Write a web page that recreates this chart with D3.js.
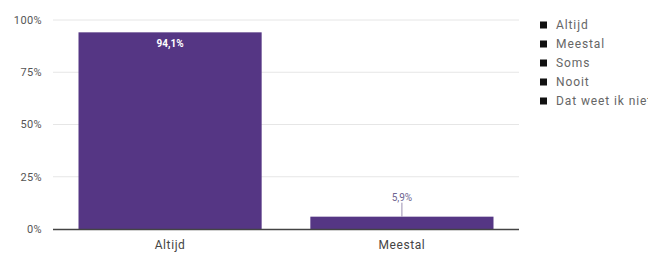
<!DOCTYPE html>
<html>
<head>
<meta charset="utf-8">
<script src="https://d3js.org/d3.v7.min.js"></script>
<style>
  body { margin: 0; background: #fff; }
  text { font-family: Roboto, "Noto Sans", sans-serif; }
</style>
</head>
<body>
<div id="chart"></div>
<script>
// data
var categories = ["Altijd", "Meestal"];
var values = [94.1, 5.9];
var valueLabels = ["94,1%", "5,9%"];
var legendItems = ["Altijd", "Meestal", "Soms", "Nooit", "Dat weet ik niet"];
var yTicks = [0, 25, 50, 75, 100];

var W = 648, H = 256;
var svg = d3.select("#chart").append("svg")
    .attr("width", W)
    .attr("height", H);

var x = d3.scaleBand()
    .domain(categories)
    .range([53, 519])
    .paddingInner(0.21)
    .paddingOuter(0.11);

var y = d3.scaleLinear()
    .domain([0, 100])
    .range([229, 20]);

// gridlines
svg.append("g")
    .selectAll("line")
    .data(yTicks.filter(function(d) { return d > 0; }))
    .enter().append("line")
        .attr("x1", 53)
        .attr("x2", 519)
        .attr("y1", function(d) { return y(d); })
        .attr("y2", function(d) { return y(d); })
        .attr("stroke", "#e6e6e6")
        .attr("stroke-width", 1);

// y tick labels
svg.append("g")
    .selectAll("text")
    .data(yTicks)
    .enter().append("text")
        .attr("x", 42)
        .attr("y", function(d) { return y(d); })
        .attr("dy", "0.35em")
        .attr("text-anchor", "end")
        .attr("font-size", 11)
        .attr("letter-spacing", 0.4)
        .attr("fill", "#555")
        .text(function(d) { return d + "%"; });

// bars
svg.append("g")
    .selectAll("rect")
    .data(values)
    .enter().append("rect")
        .attr("x", function(d, i) { return x(categories[i]); })
        .attr("y", function(d) { return y(d); })
        .attr("width", x.bandwidth())
        .attr("height", function(d) { return y(0) - y(d); })
        .attr("fill", "#553684");

// baseline
svg.append("line")
    .attr("x1", 53)
    .attr("x2", 519)
    .attr("y1", y(0) + 0.5)
    .attr("y2", y(0) + 0.5)
    .attr("stroke", "#444")
    .attr("stroke-width", 1.5);

// x labels
svg.append("g")
    .selectAll("text")
    .data(categories)
    .enter().append("text")
        .attr("x", function(d) { return x(d) + x.bandwidth() / 2; })
        .attr("y", 245)
        .attr("dy", "0.35em")
        .attr("text-anchor", "middle")
        .attr("font-size", 12)
        .attr("letter-spacing", 0.6)
        .attr("fill", "#444")
        .text(function(d) { return d; });

// value labels: inside for tall bars, outside with leader line for small
values.forEach(function(v, i) {
    var cx = x(categories[i]) + x.bandwidth() / 2;
    if (v > 20) {
        svg.append("text")
            .attr("x", cx)
            .attr("y", y(v) + 11)
            .attr("dy", "0.35em")
            .attr("text-anchor", "middle")
            .attr("font-size", 10)
            .attr("font-weight", "bold")
            .attr("fill", "#fff")
            .text(valueLabels[i]);
    } else {
        svg.append("line")
            .attr("x1", cx)
            .attr("x2", cx)
            .attr("y1", y(v) - 14)
            .attr("y2", y(v))
            .attr("stroke", "#9a8fb0")
            .attr("stroke-width", 1);
        svg.append("text")
            .attr("x", cx)
            .attr("y", y(v) - 19)
            .attr("dy", "0.35em")
            .attr("text-anchor", "middle")
            .attr("font-size", 10)
            .attr("fill", "#6e6490")
            .text(valueLabels[i]);
    }
});

// legend
var legend = svg.append("g")
    .selectAll("g")
    .data(legendItems)
    .enter().append("g")
        .attr("transform", function(d, i) { return "translate(540," + (25 + i * 19) + ")"; });
legend.append("rect")
    .attr("x", 0)
    .attr("y", -3.5)
    .attr("width", 7)
    .attr("height", 7)
    .attr("fill", "#111");
legend.append("text")
    .attr("x", 16)
    .attr("y", 0)
    .attr("dy", "0.35em")
    .attr("font-size", 12)
    .attr("letter-spacing", 0.9)
    .attr("fill", "#666")
    .text(function(d) { return d; });
</script>
</body>
</html>
